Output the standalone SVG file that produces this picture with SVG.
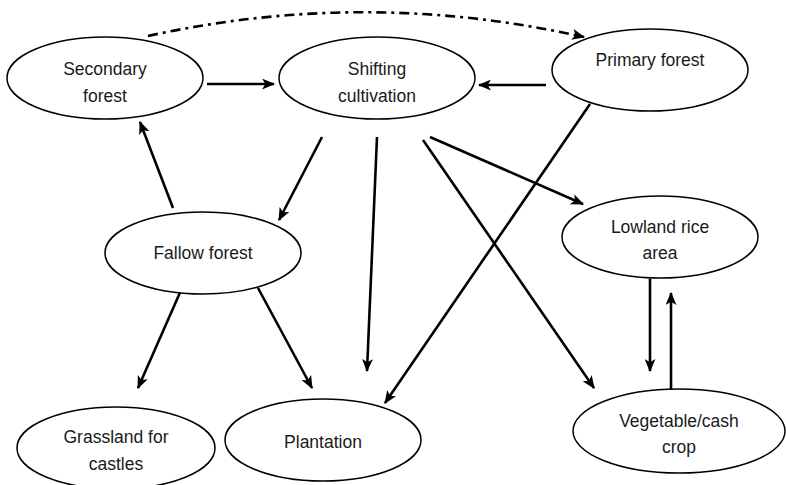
<svg xmlns="http://www.w3.org/2000/svg" width="786" height="485" viewBox="0 0 786 485">
<style>
.n ellipse{fill:#fff;stroke:#000;stroke-width:1.5}
.n text{font-family:"Liberation Sans",Arial,sans-serif;font-size:17.5px;fill:#1a1a1a;text-anchor:middle}
.c line,.c path{stroke:#000;stroke-width:2.6;fill:none;marker-end:url(#ah)}
.c .dash{stroke-dasharray:10 5 3 5}
</style>
<defs>
<marker id="ah" viewBox="0 0 12 10" refX="11" refY="5" markerWidth="13" markerHeight="11" markerUnits="userSpaceOnUse" orient="auto">
<path d="M0,0 L12,5 L0,10 L3,5 z" fill="#000"/>
</marker>
</defs>
<rect width="786" height="485" fill="#fff"/>
<g class="c" id="connectors">
<path class="dash" d="M148,36 Q366,-12 584,37"/>
<line x1="207" y1="84" x2="274" y2="84"/>
<line x1="546" y1="85" x2="479" y2="85"/>
<line x1="173" y1="208" x2="140" y2="122"/>
<line x1="322" y1="137" x2="279" y2="220"/>
<line x1="377" y1="137" x2="367" y2="371"/>
<line x1="590" y1="104" x2="385" y2="403"/>
<line x1="430" y1="137" x2="583" y2="204"/>
<line x1="423" y1="140" x2="594" y2="388"/>
<line x1="650" y1="279" x2="650" y2="371"/>
<line x1="671" y1="390" x2="671" y2="293"/>
<line x1="182" y1="288" x2="138" y2="388"/>
<line x1="258" y1="288" x2="312" y2="388"/>
</g>
<g class="n" id="secondary-forest">
<ellipse cx="105" cy="78" rx="98" ry="41"/>
<text x="105" y="75">Secondary</text>
<text x="105" y="102">forest</text>
</g>
<g class="n" id="shifting-cultivation">
<ellipse cx="377" cy="78" rx="98" ry="41"/>
<text x="377" y="75">Shifting</text>
<text x="377" y="102">cultivation</text>
</g>
<g class="n" id="primary-forest">
<ellipse cx="650" cy="70" rx="98" ry="41"/>
<text x="650" y="66">Primary forest</text>
</g>
<g class="n" id="fallow-forest">
<ellipse cx="203" cy="253" rx="98" ry="41"/>
<text x="203" y="259">Fallow forest</text>
</g>
<g class="n" id="lowland-rice-area">
<ellipse cx="660" cy="237" rx="98" ry="41"/>
<text x="660" y="233">Lowland rice</text>
<text x="660" y="259">area</text>
</g>
<g class="n" id="grassland">
<ellipse cx="116" cy="448" rx="99" ry="41"/>
<text x="116" y="443">Grassland for</text>
<text x="116" y="470">castles</text>
</g>
<g class="n" id="plantation">
<ellipse cx="323" cy="440" rx="98" ry="41"/>
<text x="323" y="448">Plantation</text>
</g>
<g class="n" id="vegetable-cash-crop">
<ellipse cx="679" cy="431" rx="106" ry="42"/>
<text x="679" y="427">Vegetable/cash</text>
<text x="679" y="453">crop</text>
</g>
</svg>
